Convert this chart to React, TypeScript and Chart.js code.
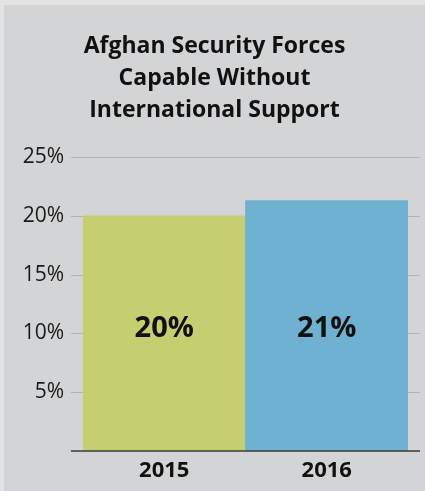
import React, { useEffect, useRef } from "react";
import { Chart, registerables } from "chart.js";

Chart.register(...registerables);

const TITLE_LINES = ["Afghan Security Forces", "Capable Without", "International Support"];
const CATEGORIES = ["2015", "2016"];
const VALUES = [20, 21.3];
const BAR_COLORS = ["#c5cf6f", "#6eb1d0"];
const Y_TICKS = [0, 5, 10, 15, 20, 25];
const LABEL_AT = 10.4;

const FONT = "'Open Sans', 'Noto Sans', sans-serif";

export default function App() {
  const ref = useRef<HTMLCanvasElement | null>(null);

  useEffect(() => {
    document.body.style.margin = "0";
    const canvas = ref.current;
    if (!canvas) return;

    const extras = {
      id: "extras",
      beforeDatasetsDraw(chart: any) {
        const { ctx, chartArea, scales } = chart;
        const y = scales.y;
        ctx.save();
        ctx.strokeStyle = "#b3b4b6";
        ctx.lineWidth = 1;
        Y_TICKS.forEach((t) => {
          if (t === 0) return;
          const py = Math.round(y.getPixelForValue(t)) + 0.5;
          ctx.beginPath();
          ctx.moveTo(chartArea.left - 12, py);
          ctx.lineTo(chartArea.right + 12, py);
          ctx.stroke();
        });
        ctx.restore();
      },
      afterDatasetsDraw(chart: any) {
        const { ctx, chartArea, scales } = chart;
        const y = scales.y;
        ctx.save();
        ctx.strokeStyle = "#3a3a3a";
        ctx.lineWidth = 1.5;
        const py = y.getPixelForValue(0);
        ctx.beginPath();
        ctx.moveTo(chartArea.left - 12, py);
        ctx.lineTo(chartArea.right + 12, py);
        ctx.stroke();

        const meta = chart.getDatasetMeta(0);
        ctx.fillStyle = "#111";
        ctx.font = `bold 29px ${FONT}`;
        ctx.textAlign = "center";
        ctx.textBaseline = "middle";
        meta.data.forEach((bar: any, i: number) => {
          ctx.fillText(Math.round(VALUES[i]) + "%", bar.x, y.getPixelForValue(LABEL_AT));
        });
        ctx.restore();
      },
    };

    const chart = new Chart(canvas, {
      type: "bar",
      data: {
        labels: CATEGORIES,
        datasets: [
          {
            data: VALUES,
            backgroundColor: BAR_COLORS,
            borderWidth: 0,
            barPercentage: 1,
            categoryPercentage: 1,
          },
        ],
      },
      options: {
        animation: false,
        responsive: false,
        maintainAspectRatio: false,
        layout: { padding: 0 },
        plugins: {
          legend: { display: false },
          tooltip: { enabled: false },
          title: {
            display: true,
            text: TITLE_LINES,
            color: "#111",
            font: { family: FONT, size: 23, weight: "bold", lineHeight: 32 / 23 },
            padding: { top: 25, bottom: 31 },
          },
        },
        scales: {
          x: {
            grid: { display: false, drawTicks: false },
            border: { display: false },
            ticks: {
              color: "#111",
              font: { family: FONT, size: 22, weight: "bold" },
              padding: 7,
            },
            afterFit(scale: any) {
              scale.height = 40;
            },
          },
          y: {
            min: 0,
            max: 25,
            grid: { display: false, drawTicks: false },
            border: { display: false },
            ticks: {
              stepSize: 5,
              color: "#1a1a1a",
              padding: 19,
              font: { family: FONT, size: 21 },
              callback: (v: any) => (Number(v) === 0 ? "" : v + "%"),
            },
            afterFit(scale: any) {
              scale.width = 79;
            },
          },
          yRight: {
            position: "right",
            min: 0,
            max: 25,
            grid: { display: false, drawTicks: false },
            border: { display: false },
            ticks: { display: false },
            afterFit(scale: any) {
              scale.width = 17;
            },
          },
        },
      },
      plugins: [extras],
    });
    return () => chart.destroy();
  }, []);

  return (
    <div style={{ position: "fixed", left: 0, top: 0, width: 425, height: 491, background: "#e3e3e3" }}>
      <div style={{ position: "absolute", left: 4, top: 5, width: 421, height: 486, background: "#d3d4d6" }}>
        <canvas ref={ref} width={421} height={486} style={{ display: "block", width: 421, height: 486 }} />
      </div>
    </div>
  );
}
